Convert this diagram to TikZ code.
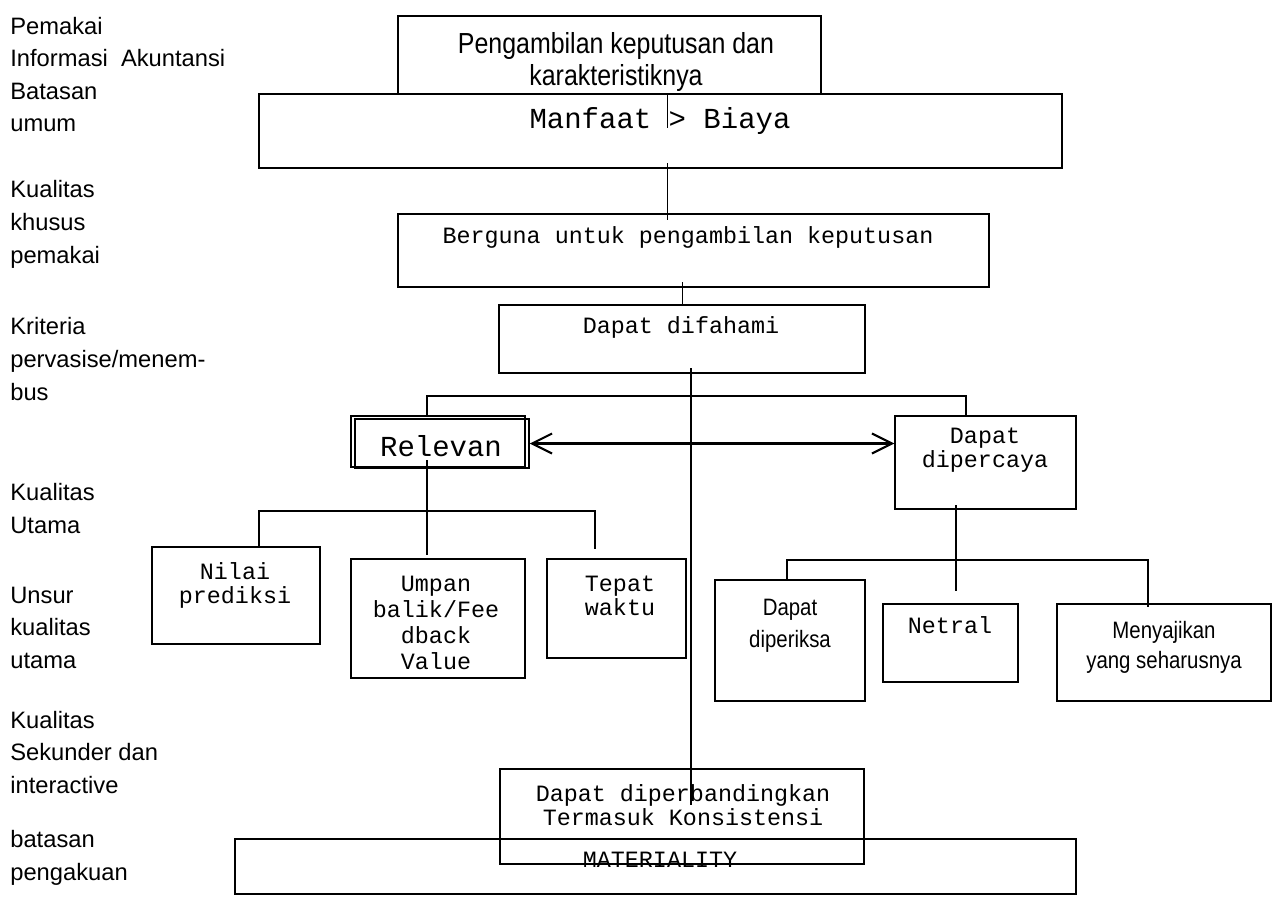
\documentclass[tikz,border=0pt]{standalone}
\usepackage{fontspec}
\setmainfont{Liberation Sans}
\newfontfamily\monofont{Liberation Mono}
\newfontfamily\narrowfont[FakeStretch=0.86]{Liberation Sans}
\usetikzlibrary{arrows.meta,fit,calc}

\begin{document}
\begin{tikzpicture}[x=0.02cm,y=-0.02cm,
  box/.style={draw,line width=0.85pt,inner sep=0pt},
  side/.style={anchor=base west,align=left,inner sep=0pt,font=\fontsize{13.5}{18.5}\selectfont},
  mono/.style={anchor=base,align=center,inner sep=0pt,font=\monofont\fontsize{13.3}{13.6}\selectfont},
  monobig/.style={mono,font=\monofont\fontsize{16.5}{18}\selectfont},
  narrow/.style={anchor=base,align=center,inner sep=0pt,font=\narrowfont\fontsize{13.5}{18}\selectfont},
  thinline/.style={line width=0.55pt},
  link/.style={line width=0.85pt},
  barb/.style={line width=1.2pt,{Straight Barb[length=0.4cm,width=0.4cm]}-{Straight Barb[length=0.4cm,width=0.4cm]}}]
\useasboundingbox (0,0) rectangle (1273,909);

\node[side] (lab1) at (10,132) {Pemakai\\Informasi\ \ Akuntansi\\Batasan\\umum};
\node[side] (lab2) at (10,263) {Kualitas\\khusus\\pemakai};
\node[side] (lab3) at (10,400) {Kriteria\\pervasise/menem-\\bus};
\node[side] (lab4) at (10,533) {Kualitas\\Utama};
\node[side] (lab5) at (10,668) {Unsur\\kualitas\\utama};
\node[side] (lab6) at (10,793) {Kualitas\\Sekunder dan\\interactive};
\node[side] (lab7) at (10,880) {batasan\\pengakuan};

\node[box,fit={(398,16)(821,94)}] (top) {};
\node[box,fit={(259,94)(1062,168)}] (manfaat) {};
\node[box,fit={(398,214)(989,287)}] (berguna) {};
\node[box,fit={(499,305)(865,373)}] (difahami) {};
\node[box,fit={(351,416)(525,467)}] (relevan) {};
\node[box,fit={(355,419)(529,468)}] (relevan2) {};
\node[box,fit={(895,416)(1076,509)}] (dipercaya) {};
\node[box,fit={(152,547)(320,644)}] (nilai) {};
\node[box,fit={(351,559)(525,678)}] (umpan) {};
\node[box,fit={(547,559)(686,658)}] (tepat) {};
\node[box,fit={(715,580)(865,701)}] (diperiksa) {};
\node[box,fit={(883,604)(1018,682)}] (netral) {};
\node[box,fit={(1057,604)(1271,701)}] (menyajikan) {};
\node[box,fit={(500,769)(864,864)}] (banding) {};
\node[box,fit={(235,839)(1076,894)}] (materiality) {};

\node[narrow,font=\narrowfont\fontsize{16.5}{18.7}\selectfont] (top-t) at (616,86) {Pengambilan keputusan dan\\karakteristiknya};
\node[monobig] (manfaat-t) at (660,128) {Manfaat > Biaya};
\node[mono] (berguna-t) at (688,243) {Berguna untuk pengambilan keputusan};
\node[mono] (difahami-t) at (681,333) {Dapat difahami};
\node[monobig] (relevan-t) at (441,456) {Relevan};
\node[mono] (dipercaya-t) at (985,467) {Dapat\\dipercaya};
\node[mono] (nilai-t) at (235,603) {Nilai\\prediksi};
\node[mono,font=\monofont\fontsize{13.3}{14.8}\selectfont] (umpan-t) at (436,669) {Umpan\\balik/Fee\\dback\\Value};
\node[mono] (tepat-t) at (620,615) {Tepat\\waktu};
\node[narrow] (diperiksa-t) at (790,647) {Dapat\\diperiksa};
\node[mono] (netral-t) at (950,633) {Netral};
\node[narrow,font=\narrowfont\fontsize{13.5}{17}\selectfont] (menyajikan-t) at (1164,668) {Menyajikan\\yang seharusnya};
\node[mono] (banding-t) at (683,825) {Dapat diperbandingkan\\Termasuk Konsistensi};
\node[mono] (materiality-t) at (660,867) {MATERIALITY};

\draw[thinline] (667,0 |- top.south) -- (667,128);
\draw[thinline] (667,163) -- (667,220);
\draw[thinline] (682,282) -- (682,0 |- difahami.north);
\draw[link] (691,368) -- (691,805);
\draw[link] (427,0 |- relevan.north) |- (966,396) -- (966,0 |- dipercaya.north);
\draw[barb] (relevan2.east) -- (relevan2.east -| dipercaya.west);
\draw[link] (427,460) -- (427,555);
\draw[link] (259,0 |- nilai.north) |- (595,511) -- (595,549);
\draw[link] (956,505) -- (956,591);
\draw[link] (787,0 |- diperiksa.north) |- (1148,560) -- (1148,607);
\end{tikzpicture}
\end{document}
